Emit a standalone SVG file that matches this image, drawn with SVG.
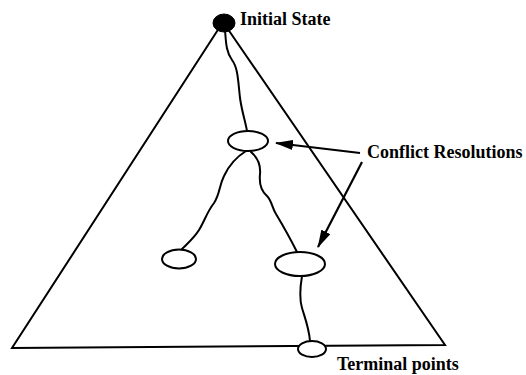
<svg xmlns="http://www.w3.org/2000/svg" width="526" height="375" viewBox="0 0 526 375">
  <style>
    .frame { fill: none; stroke: #000; stroke-width: 2; stroke-linejoin: miter; }
    .node { fill: #fff; stroke: #000; stroke-width: 2; }
    .start { fill: #000; stroke: #000; stroke-width: 1; }
    .edge { fill: none; stroke: #000; stroke-width: 2; stroke-linecap: round; stroke-linejoin: round; }
    .pointer { fill: none; stroke: #000; stroke-width: 2.2; }
    .label { font-family: "Liberation Serif", "Times New Roman", serif; font-weight: bold; font-size: 18px; fill: #000; }
  </style>
  <defs>
    <marker id="head" viewBox="0 0 18 10" refX="17" refY="5" markerWidth="18" markerHeight="10" markerUnits="userSpaceOnUse" orient="auto">
      <path d="M0,0 L18,5 L0,10 Z" fill="#000"/>
    </marker>
  </defs>

  <rect width="526" height="375" fill="#fff"/>

  <!-- search space outline -->
  <path class="frame" d="M223,22 L12,348 L445,345 Z"/>

  <!-- branches of the search tree and label pointers -->
  <g id="connectors">
    <path class="edge" d="M225,30 C226,42 226,52 232,60 C238,68 238,80 240,98 C242,112 245,120 247,131"/>
    <path class="edge" d="M246,151 C238,156 230,163 224,176 C219,186 220,194 214,203 C207,212 205,220 199,230 C194,238 188,243 182,249"/>
    <path class="edge" d="M251,152 C257,157 261,163 260,174 C259,184 261,191 267,196 C272,201 272,208 276,214 C282,224 290,238 297,252"/>
    <path class="edge" d="M302,276 C300,288 299,298 302,308 C305,318 309,328 310,341"/>
    <line class="pointer" x1="360" y1="153" x2="276" y2="143" marker-end="url(#head)"/>
    <line class="pointer" x1="362" y1="162" x2="318" y2="247" marker-end="url(#head)"/>
  </g>

  <g id="initial-state">
    <ellipse class="start" cx="224" cy="23" rx="11" ry="9"/>
    <text class="label" x="240" y="25">Initial State</text>
  </g>

  <g id="resolution-top">
    <ellipse class="node" cx="248" cy="141" rx="20" ry="10"/>
  </g>

  <g id="leaf-left">
    <ellipse class="node" cx="179" cy="259" rx="17" ry="9.5"/>
  </g>

  <g id="resolution-bottom">
    <ellipse class="node" cx="300" cy="264" rx="25" ry="12"/>
  </g>

  <g id="terminal">
    <ellipse class="node" cx="312" cy="349" rx="14" ry="8"/>
    <text class="label" x="337" y="370" font-size="17.5">Terminal points</text>
  </g>

  <g id="conflict-label">
    <text class="label" x="367" y="158">Conflict Resolutions</text>
  </g>
</svg>
